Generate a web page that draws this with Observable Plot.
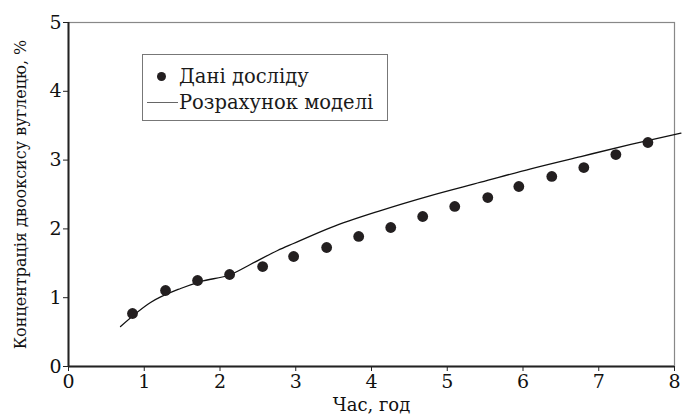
<!DOCTYPE html>
<html>
<head>
<meta charset="utf-8">
<script src="https://cdn.jsdelivr.net/npm/d3@7"></script>
<script src="https://cdn.jsdelivr.net/npm/@observablehq/plot@0.6"></script>
<style>
  html, body { margin: 0; padding: 0; background: #fff; }
  #wrap { position: relative; width: 683px; height: 416px; font-family: "DejaVu Serif", serif; }
  #legend { position: absolute; left: 142px; top: 54px; width: 246px; height: 67px; border: 1.2px solid #777; box-sizing: border-box; background: #fff; color: #1a1a1a; font-size: 19.5px; }
  .row { position: absolute; left: 0; height: 24px; display: flex; align-items: center; white-space: nowrap; }
  .sym { width: 36px; display: flex; justify-content: center; align-items: center; }
  .dotsym { width: 9px; height: 9px; border-radius: 50%; background: #231f20; margin-left: 1px; }
  .linesym { width: 31px; height: 0; border-top: 1.3px solid #666; margin-left: 2px; }
</style>
</head>
<body>
<div id="wrap"></div>
<script>
// Experimental data: time (h) and CO2 concentration (%)
const expTime = [0.845, 1.281, 1.704, 2.127, 2.563, 2.972, 3.408, 3.831, 4.254, 4.676, 5.099, 5.535, 5.945, 6.380, 6.803, 7.226, 7.649];
const expConc = [0.77, 1.105, 1.25, 1.337, 1.453, 1.599, 1.73, 1.89, 2.02, 2.18, 2.326, 2.456, 2.616, 2.762, 2.892, 3.081, 3.256];
// Model curve
const modelTime = [0.687, 1.083, 1.48, 1.744, 2.14, 2.40, 2.76, 2.97, 3.461, 4.121, 4.782, 5.443, 6.103, 6.764, 7.424, 8.085];
const modelConc = [0.581, 0.93, 1.134, 1.235, 1.337, 1.483, 1.686, 1.788, 2.02, 2.267, 2.485, 2.679, 2.874, 3.052, 3.227, 3.391];
const xTicks = [0, 1, 2, 3, 4, 5, 6, 7, 8];
const yTicks = [0, 1, 2, 3, 4, 5];
const xLabel = "Час, год";
const yLabel = "Концентрація двооксису вуглецю, %";
const legendLabels = ["Дані досліду", "Розрахунок моделі"];

const exp = expTime.map((t, i) => ({t, c: expConc[i]}));
const model = modelTime.map((t, i) => ({t, c: modelConc[i]}));

const chart = Plot.plot({
  width: 683,
  height: 416,
  marginLeft: 68,
  marginRight: 9,
  marginTop: 22,
  marginBottom: 50,
  style: {fontFamily: "DejaVu Serif, serif", fontSize: "19px", color: "#111", background: "#fff"},
  x: {domain: [0, 8]},
  y: {domain: [0, 5]},
  marks: [
    Plot.frame({stroke: "#888", strokeWidth: 1.2}),
    Plot.axisX({ticks: xTicks, tickSize: 5, tickPadding: 3, label: null, tickFormat: d => String(d), stroke: "#222", fontSize: 19}),
    Plot.axisY({ticks: yTicks, tickSize: 5, tickPadding: 2, label: null, tickFormat: d => String(d), stroke: "#222", fontSize: 19}),
    Plot.ruleY([0], {stroke: "#222", strokeWidth: 2}),
    Plot.ruleX([0], {stroke: "#222", strokeWidth: 2}),
    Plot.line(model, {x: "t", y: "c", stroke: "#111", strokeWidth: 1.3, curve: "monotone-x"}),
    Plot.dot(exp, {x: "t", y: "c", r: 5.4, fill: "#231f20", stroke: "none"}),
    Plot.text([xLabel], {frameAnchor: "bottom", dy: 39, lineAnchor: "middle", fontSize: 18, fill: "#111"}),
    Plot.text([yLabel], {frameAnchor: "left", dx: -48, rotate: -90, textAnchor: "middle", lineAnchor: "middle", fontSize: 16, fill: "#111"})
  ]
});

const wrap = document.getElementById("wrap");
wrap.appendChild(chart);

const legend = document.createElement("div");
legend.id = "legend";
legend.innerHTML = `
  <div class="row" style="top:9px"><div class="sym"><div class="dotsym"></div></div><span>${legendLabels[0]}</span></div>
  <div class="row" style="top:35px"><div class="sym"><div class="linesym"></div></div><span>${legendLabels[1]}</span></div>`;
wrap.appendChild(legend);
</script>
</body>
</html>
